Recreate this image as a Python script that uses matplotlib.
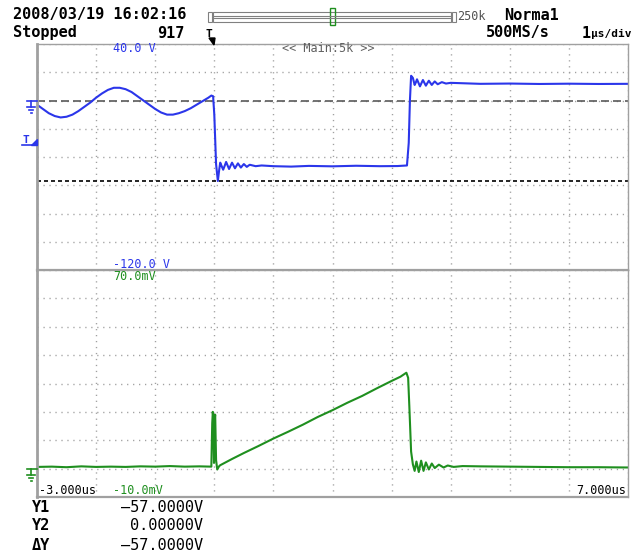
import numpy as np
import matplotlib
matplotlib.use('Agg')
import matplotlib.pyplot as plt
from matplotlib.patches import Rectangle, Polygon

# CH1 (blue) : time in us, volts
ch1_t = [-3.0, -2.9, -2.8, -2.7, -2.6, -2.5, -2.4, -2.3, -2.2, -2.1, -2.0, -1.9, -1.8,
         -1.7, -1.6, -1.5, -1.4, -1.3, -1.2, -1.1, -1.0, -0.9, -0.8, -0.7, -0.6, -0.5,
         -0.4, -0.3, -0.2, -0.1, -0.05, -0.02, 0.0, 0.03, 0.06, 0.08, 0.10, 0.125, 0.15,
         0.175, 0.20, 0.225, 0.25, 0.275, 0.30, 0.325, 0.35, 0.375, 0.40, 0.425, 0.45,
         0.475, 0.50, 0.525, 0.55, 0.575, 0.60, 0.70, 0.80, 1.0, 1.3, 1.6, 2.0, 2.4,
         2.8, 3.1, 3.26, 3.29, 3.31, 3.33, 3.36, 3.39, 3.41, 3.43, 3.455, 3.48, 3.505,
         3.53, 3.555, 3.58, 3.605, 3.63, 3.655, 3.68, 3.705, 3.73, 3.78, 3.85, 3.92, 4.0,
         4.5, 5.0, 5.5, 6.0, 6.5, 7.0]
ch1_v = [-3, -6, -9, -11, -12, -11.5, -10, -7.5, -4.5, -1.5, 2, 5, 7.5,
         9, 9, 8, 6, 3, 0, -3, -6, -8.5, -10, -10, -9, -7.5,
         -5.5, -3, -0.5, 2, 3.5, 3, -10, -45, -57, -50, -44, -46.5, -49,
         -46.3, -43.5, -46, -48.5, -46.2, -44, -46, -48, -46.2, -44.5, -46, -47.5,
         -46.2, -45, -46, -47, -46.2, -45.5, -46.5, -46, -46.5, -46.8, -46.3, -46.6, -46.2,
         -46.5, -46.4, -46, -30, 0, 17.5, 16, 11, 12.8, 15, 12.5, 10, 12.3,
         14.5, 12.5, 10.5, 12.3, 14, 12.5, 11, 12.3, 13.5, 11.5, 13, 12, 12.5,
         11.8, 12, 11.7, 11.9, 11.7, 11.8]

# CH2 (green) : time in us, millivolts
ch2_t = [-3.0, -2.75, -2.5, -2.25, -2.0, -1.75, -1.5, -1.25, -1.0, -0.75, -0.5, -0.25,
         -0.05, -0.035, -0.025, -0.015, -0.005, 0.005, 0.015, 0.03, 0.05, 0.08, 0.1, 0.3,
         0.5, 0.75, 1.0, 1.25, 1.5, 1.75, 2.0, 2.25, 2.5, 2.75, 3.0, 3.15, 3.25, 3.28,
         3.30, 3.33, 3.36, 3.39, 3.42, 3.46, 3.50, 3.54, 3.58, 3.63, 3.68, 3.73, 3.80,
         3.88, 3.95, 4.05, 4.2, 4.5, 5.0, 5.5, 6.0, 6.5, 7.0]
ch2_mv = [0.6, 0.7, 0.5, 0.8, 0.6, 0.7, 0.6, 0.8, 0.7, 0.9, 0.7, 0.8,
          0.7, 16, 20, 17, 2, 17, 19, 3, -0.3, 0.8, 1.2, 3.4,
          5.5, 8, 10.6, 13, 15.5, 18.2, 20.6, 23.2, 25.6, 28.3, 30.9, 32.4, 33.8, 32,
          22, 6, 1.5, -0.8, 2.5, -1.2, 2.8, -0.8, 2.2, -0.3, 1.8, 0.2, 1.4,
          0.4, 1.1, 0.6, 0.9, 0.8, 0.7, 0.6, 0.5, 0.5, 0.4]

ch1_range = (-120, 40)
ch2_range = (-10, 70)
t_range = (-3, 7)
cursor_y1 = -57.0
cursor_y2 = 0.0
trig_level = -31

BLUE = '#2b36ea'
GREEN = '#1f8f1f'
GRID = '#a0a0a0'
FRAME = '#a0a0a0'
MONO = 'DejaVu Sans Mono'

W, H = 638, 554
fig = plt.figure(figsize=(W / 100, H / 100), dpi=100)
L, R, T, M, B = 37, 628, 44, 270, 497


def box(x0, y0, x1, y1):
    return [x0 / W, 1 - y1 / H, (x1 - x0) / W, (y1 - y0) / H]


ax1 = fig.add_axes(box(L, T, R, M))
ax2 = fig.add_axes(box(L, M, R, B))
ov = fig.add_axes([0, 0, 1, 1], zorder=5)
ov.set_xlim(0, W)
ov.set_ylim(H, 0)
ov.axis('off')

for ax, yr, step in ((ax1, ch1_range, 20), (ax2, ch2_range, 10)):
    ax.set_xlim(*t_range)
    ax.set_ylim(*yr)
    ax.set_xticks(np.arange(t_range[0], t_range[1] + 1, 1))
    ax.set_yticks(np.arange(yr[0], yr[1] + 1, step))
    ax.grid(True, color=GRID, lw=1.0, linestyle=(0, (0.9, 3.4)))
    ax.tick_params(length=0, labelbottom=False, labelleft=False)
    for s in ax.spines.values():
        s.set_color(FRAME)
        s.set_linewidth(1.0)
    ax.spines['left'].set_linewidth(2.0)
ax1.spines['bottom'].set_linewidth(1.6)
ax2.spines['bottom'].set_linewidth(1.6)

# cursors
ax1.axhline(cursor_y2, color='#5a5a5a', lw=1.2, dashes=(4.8, 2.4))
ax1.axhline(cursor_y1, color='black', lw=1.2, dashes=(2.4, 1.8))

ax1.plot(ch1_t, ch1_v, color=BLUE, lw=1.5)
ax2.plot(ch2_t, ch2_mv, color=GREEN, lw=1.5)


def py(ax, v):
    return ov.transData.inverted().transform(ax.transData.transform((0, v)))[1]


def ground(y0, c):
    ov.plot([27, 37], [y0, y0], color=c, lw=1.2)
    ov.plot([31, 31], [y0, y0 + 6], color=c, lw=1.2)
    ov.plot([27, 35], [y0 + 6, y0 + 6], color=c, lw=1.2)
    ov.plot([29, 33], [y0 + 9, y0 + 9], color=c, lw=1.2)
    ov.plot([30.5, 31.5], [y0 + 12, y0 + 12], color=c, lw=1.2)


ground(py(ax1, 0), BLUE)
ground(py(ax2, 0), GREEN)

# trigger level marker
yt = py(ax1, trig_level)
ov.text(26, yt - 4, 'T', color=BLUE, fontsize=8, family=MONO, fontweight='bold',
        ha='center', va='center')
ov.plot([22, 37], [yt + 1, yt + 1], color=BLUE, lw=1.2)
ov.add_patch(Polygon([(31, yt + 1), (37, yt + 1), (37, yt - 5)], closed=True, color=BLUE))

# trigger position marker
ov.text(209, 34, 'T', color='black', fontsize=8, family=MONO, fontweight='bold',
        ha='center', va='center')
ov.add_patch(Polygon([(209, 38), (215, 38), (214, 45)], closed=True, color='black'))

# record bar
ov.add_patch(Rectangle((208, 12), 4, 10, fill=False, ec='#808080', lw=0.8))
ov.add_patch(Rectangle((213, 12), 238, 10, fill=False, ec='#808080', lw=0.8))
ov.plot([213, 451], [16, 16], color='#808080', lw=0.8)
ov.plot([213, 451], [18, 18], color='#808080', lw=0.8)
ov.add_patch(Rectangle((452, 12), 4, 10, fill=False, ec='#808080', lw=0.8))
ov.add_patch(Rectangle((330, 8), 5, 17, fill=False, ec=GREEN, lw=1.0))
ov.text(457, 17, '250k', color='#505050', fontsize=8.5, family=MONO, va='center')

# header
hdr = dict(family=MONO, fontsize=11, fontweight='bold', va='center', color='black')
ov.text(13, 15, '2008/03/19 16:02:16', **hdr)
ov.text(13, 33, 'Stopped', **hdr)
ov.text(184, 33, '917', ha='right', **hdr)
ov.text(504, 15, 'Norma1', **hdr)
ov.text(486, 33, '500MS/s', **hdr)
ov.text(582, 33, '1', **hdr)
ov.text(591, 34, 'µs/div', family=MONO, fontsize=8, fontweight='bold', va='center')

# on-screen labels
lab = dict(family=MONO, fontsize=8.5, va='center')
ov.text(113, 49, '40.0 V', color=BLUE, **lab)
ov.text(282, 49, '<< Main:5k >>', color='#606060', **lab)
ov.text(113, 264, '-120.0 V', color=BLUE, **lab)
ov.text(113, 277, '70.0mV', color=GREEN, **lab)
ov.text(39, 490, '-3.000us', color='black', **lab)
ov.text(113, 490, '-10.0mV', color=GREEN, **lab)
ov.text(626, 490, '7.000us', color='black', ha='right', **lab)

# cursor readout
rows = [('Y1', '%.4fV' % cursor_y1), ('Y2', '%.5fV' % cursor_y2),
        ('ΔY', '%.4fV' % (cursor_y1 - cursor_y2))]
for i, (k, val) in enumerate(rows):
    y = 507 + 19 * i
    ov.text(32, y, k, family=MONO, fontsize=11, fontweight='bold', va='center')
    ov.text(203, y, val.replace('-', '\u2013'), family=MONO, fontsize=11, ha='right', va='center')

fig.savefig('out.png', dpi=100)
